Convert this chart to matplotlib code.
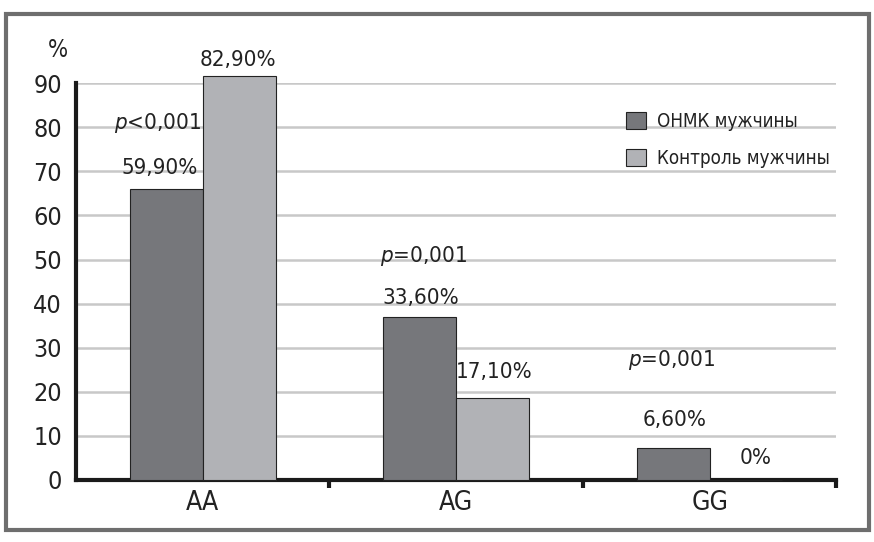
import matplotlib
matplotlib.use("Agg")
import numpy as np
from matplotlib import pyplot as plt
from matplotlib.patches import Rectangle, Patch

plt.rcParams['font.family'] = ['DejaVu Sans']
plt.rcParams['font.stretch'] = 'condensed'
plt.rcParams['mathtext.fontset'] = 'custom'
plt.rcParams['mathtext.it'] = 'DejaVu Sans:italic:stretch=condensed'
plt.rcParams['mathtext.rm'] = 'DejaVu Sans:stretch=condensed'

categories = ["AA", "AG", "GG"]
series_names = ["ОНМК мужчины", "Контроль мужчины"]
# bar heights as drawn in the picture
onmk_heights = [66.1, 37.0, 7.2]
control_heights = [91.7, 18.7, 0.0]
# labels printed above the bars
onmk_labels = ["59,90%", "33,60%", "6,60%"]
control_labels = ["82,90%", "17,10%", "0%"]
p_labels = ["<0,001", "=0,001", "=0,001"]
yticks = [0, 10, 20, 30, 40, 50, 60, 70, 80, 90]

dark = "#76777b"
light = "#b1b2b6"
txt = "#222222"

fig = plt.figure(figsize=(8.74, 5.42), dpi=100)
fig.patches.append(Rectangle((0.007, 0.023), 0.987, 0.952, transform=fig.transFigure,
                             fill=False, edgecolor="#6e6e6e", linewidth=3))

ax = fig.add_axes([0.087, 0.1145, 0.87, 0.732])
x = np.arange(len(categories))
w = 0.287

ax.bar(x - w / 2, onmk_heights, w, color=dark, edgecolor="#222222", linewidth=0.8,
       zorder=3, clip_on=False)
ax.bar(x + w / 2, control_heights, w, color=light, edgecolor="#222222", linewidth=0.8,
       zorder=3, clip_on=False)

ax.set_xlim(-0.5, 2.5)
ax.set_ylim(0, 90)
ax.set_yticks(yticks)
ax.set_yticklabels([str(t) for t in yticks], fontsize=18, color=txt)
ax.yaxis.grid(True, color="#c8c8c8", linewidth=1.8, zorder=0)
ax.set_axisbelow(True)
ax.tick_params(axis="y", length=0, pad=10)

ax.set_xticks(x)
ax.set_xticklabels(categories, fontsize=19, color=txt)
ax.set_xticks([0.5, 1.5, 2.5], minor=True)
ax.tick_params(axis="x", which="major", length=0, pad=7)
ax.tick_params(axis="x", which="minor", length=6, width=3, color="#1a1a1a")

for s in ["top", "right"]:
    ax.spines[s].set_visible(False)
ax.spines["left"].set_linewidth(3)
ax.spines["bottom"].set_linewidth(3)
ax.spines["left"].set_color("#1a1a1a")
ax.spines["bottom"].set_color("#1a1a1a")

fs = 16
# value labels
ax.text(0.14, 95.2, control_labels[0], ha="center", va="center", fontsize=fs, color=txt, clip_on=False)
ax.text(-0.17, 70.7, onmk_labels[0], ha="center", va="center", fontsize=fs, color=txt)
ax.text(0.86, 41.3, onmk_labels[1], ha="center", va="center", fontsize=fs, color=txt)
ax.text(1.15, 24.5, control_labels[1], ha="center", va="center", fontsize=fs, color=txt)
ax.text(1.86, 13.6, onmk_labels[2], ha="center", va="center", fontsize=fs, color=txt)
ax.text(2.18, 5.0, control_labels[2], ha="center", va="center", fontsize=fs, color=txt)
# p-values
ax.text(-0.18, 81.0, "$p$" + p_labels[0], ha="center", va="center", fontsize=fs, color=txt)
ax.text(0.87, 50.8, "$p$" + p_labels[1], ha="center", va="center", fontsize=fs, color=txt)
ax.text(1.85, 27.2, "$p$" + p_labels[2], ha="center", va="center", fontsize=fs, color=txt)

fig.text(0.066, 0.908, "%", ha="center", va="center", fontsize=17, color=txt)

handles = [Patch(facecolor=dark, edgecolor="#222222", linewidth=0.8),
           Patch(facecolor=light, edgecolor="#222222", linewidth=0.8)]
fig.legend(handles, series_names, loc="upper left", bbox_to_anchor=(0.697, 0.825),
           frameon=False, fontsize=13.5, handlelength=1.05, handleheight=1.05,
           handletextpad=0.6, labelspacing=0.95, labelcolor=txt)

fig.savefig("out.png", dpi=100)
